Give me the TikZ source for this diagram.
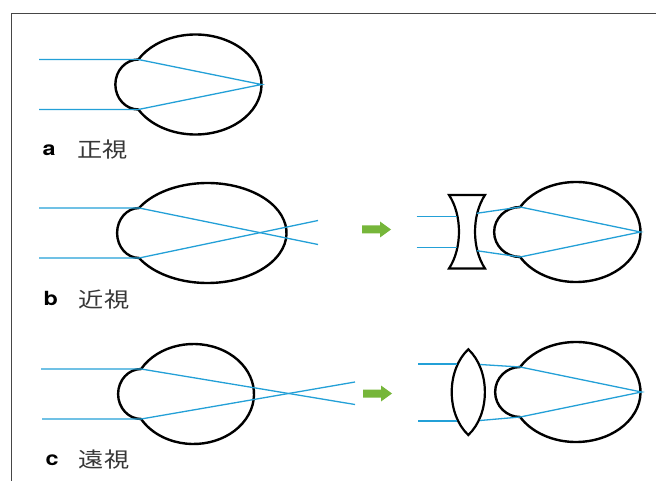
\documentclass[tikz,border=0pt]{standalone}
\usepackage{fontspec}
\usepackage{graphicx}
\setmainfont{TeX Gyre Heros}
\newfontfamily\jpfont{Noto Sans CJK JP}
\usetikzlibrary{positioning}
\definecolor{raycyan}{RGB}{35,160,215}
\definecolor{arrowgreen}{RGB}{118,182,58}
\definecolor{framegray}{RGB}{70,70,70}
\definecolor{captiongray}{RGB}{55,55,55}
\tikzset{
  eyeline/.style={line width=2.4pt, line join=round, black},
  lensline/.style={line width=2.2pt, line join=miter, black},
  ray/.style={line width=1.3pt, raycyan},
  framerule/.style={line width=1.4pt, framegray},
  nextarrow/.style={fill=arrowgreen},
  panelletter/.style={anchor=base west, inner sep=0pt,
    font=\fontsize{19.5}{20}\selectfont\bfseries},
  captiontext/.style={anchor=base west, inner sep=0pt, text=captiongray,
    font=\fontsize{21}{22}\selectfont\jpfont},
}

\begin{document}
\begin{tikzpicture}[x=1pt, y=-1pt]
  \useasboundingbox (0,0) rectangle (656,481);

  % open frame, top and left edge only
  \draw[framerule] (656,13.5) -- (11.5,13.5) -- (11.5,481);

  % a: normal eye
  \coordinate (aInTop) at (39,59.5);
  \coordinate (aInBot) at (39,109.5);
  \coordinate (aTop) at (138.34,59.5);
  \coordinate (aBot) at (138.34,109.5);
  \coordinate (aFocus) at (261.5,84.5);
  \draw[eyeline] (aTop) arc[start angle=-150, end angle=150, x radius=66, y radius=50]
    arc[start angle=90, end angle=270, x radius=23, y radius=25] -- cycle;
  \draw[ray] (aInTop) -- (aTop) -- (aFocus) -- (aBot) -- (aInBot);

  \node[panelletter] (aLetter) at (42.5,156) {\scalebox{1.2}[1]{a}};
  \node[captiontext] (aText) at (76.8,158) {\scalebox{1.2}[1]{正視}};

  % b: long eye, focus in front of the retina
  \coordinate (bInTop) at (39,208);
  \coordinate (bInBot) at (39,258);
  \coordinate (bTop) at (139.08,208);
  \coordinate (bBot) at (139.08,258);
  \coordinate (bOutTop) at (318,244.5);
  \coordinate (bOutBot) at (318,220.5);
  \draw[eyeline] (bTop) arc[start angle=-150, end angle=150, x radius=79, y radius=50]
    arc[start angle=90, end angle=270, x radius=22, y radius=25] -- cycle;
  \draw[ray] (bInTop) -- (bTop) -- (bOutTop);
  \draw[ray] (bInBot) -- (bBot) -- (bOutBot);

  % green step arrow
  \coordinate (bArrow) at (362,229.5);
  \fill[nextarrow] (bArrow) ++(0,-4) -- ++(18,0) -- ++(0,-4) -- ++(11,8)
    -- ++(-11,8) -- ++(0,-4) -- ++(-18,0) -- cycle;

  % b: corrected with a concave lens
  \coordinate (bLensInTop) at (416.7,216.7);
  \coordinate (bLensInBot) at (416.7,247.3);
  \coordinate (bLensLeftTop) at (457.3,216.7);
  \coordinate (bLensLeftBot) at (457.3,247.3);
  \coordinate (bLensRightTop) at (476.7,213.3);
  \coordinate (bLensRightBot) at (476.7,250.7);
  \coordinate (bRTop) at (520.14,207);
  \coordinate (bRBot) at (520.14,257);
  \coordinate (bRFocus) at (640.5,232);
  \draw[lensline] (449,195) -- (485,195)
    .. controls (471.7,215) and (471.7,248.5) .. (485,268.5)
    -- (449,268.5)
    .. controls (462.3,248.5) and (462.3,215) .. (449,195) -- cycle;
  \draw[eyeline] (bRTop) arc[start angle=-150, end angle=150, x radius=64.5, y radius=50]
    arc[start angle=90, end angle=270, x radius=26, y radius=25] -- cycle;
  \draw[ray] (bLensInTop) -- (bLensLeftTop);
  \draw[ray] (bLensInBot) -- (bLensLeftBot);
  \draw[ray] (bLensRightTop) -- (bRTop) -- (bRFocus) -- (bRBot) -- (bLensRightBot);

  \node[panelletter] (bLetter) at (43.5,305.7) {\scalebox{1.2}[1]{b}};
  \node[captiontext] (bText) at (78.7,307) {\scalebox{1.2}[1]{近視}};

  % c: short eye, focus behind the retina
  \coordinate (cInTop) at (41,369);
  \coordinate (cInBot) at (42,419);
  \coordinate (cTop) at (141.1,369);
  \coordinate (cBot) at (141.1,419);
  \coordinate (cOutTop) at (355,404.5);
  \coordinate (cOutBot) at (355,382);
  \draw[eyeline] (cTop) arc[start angle=-150, end angle=150, x radius=60.5, y radius=50]
    arc[start angle=90, end angle=270, x radius=23, y radius=25] -- cycle;
  \draw[ray] (cInTop) -- (cTop) -- (cOutTop);
  \draw[ray] (cInBot) -- (cBot) -- (cOutBot);

  \coordinate (cArrow) at (363,393.5);
  \fill[nextarrow] (cArrow) ++(0,-4) -- ++(18,0) -- ++(0,-4) -- ++(11,8)
    -- ++(-11,8) -- ++(0,-4) -- ++(-18,0) -- cycle;

  % c: corrected with a convex lens
  \coordinate (cLensInTop) at (418.3,364);
  \coordinate (cLensInBot) at (418.3,421);
  \coordinate (cLensLeftTop) at (456.5,364);
  \coordinate (cLensLeftBot) at (456.5,421);
  \coordinate (cLensRightTop) at (480,364.5);
  \coordinate (cLensRightBot) at (480,420.5);
  \coordinate (cRTop) at (520.14,367);
  \coordinate (cRBot) at (520.14,417);
  \coordinate (cRFocus) at (641.5,392);
  \draw[lensline] (468.3,349.3)
    .. controls (446.2,370) and (446.2,414.3) .. (468.3,435)
    .. controls (490.4,414.3) and (490.4,370) .. (468.3,349.3) -- cycle;
  \draw[eyeline] (cRTop) arc[start angle=-150, end angle=150, x radius=64.5, y radius=50]
    arc[start angle=90, end angle=270, x radius=25, y radius=25] -- cycle;
  \draw[ray] (cLensInTop) -- (cLensLeftTop);
  \draw[ray] (cLensInBot) -- (cLensLeftBot);
  \draw[ray] (cLensRightTop) -- (cRTop) -- (cRFocus) -- (cRBot) -- (cLensRightBot);

  \node[panelletter] (cLetter) at (45.5,465.7) {\scalebox{1.2}[1]{c}};
  \node[captiontext] (cText) at (78.7,467) {\scalebox{1.2}[1]{遠視}};
\end{tikzpicture}
\end{document}
